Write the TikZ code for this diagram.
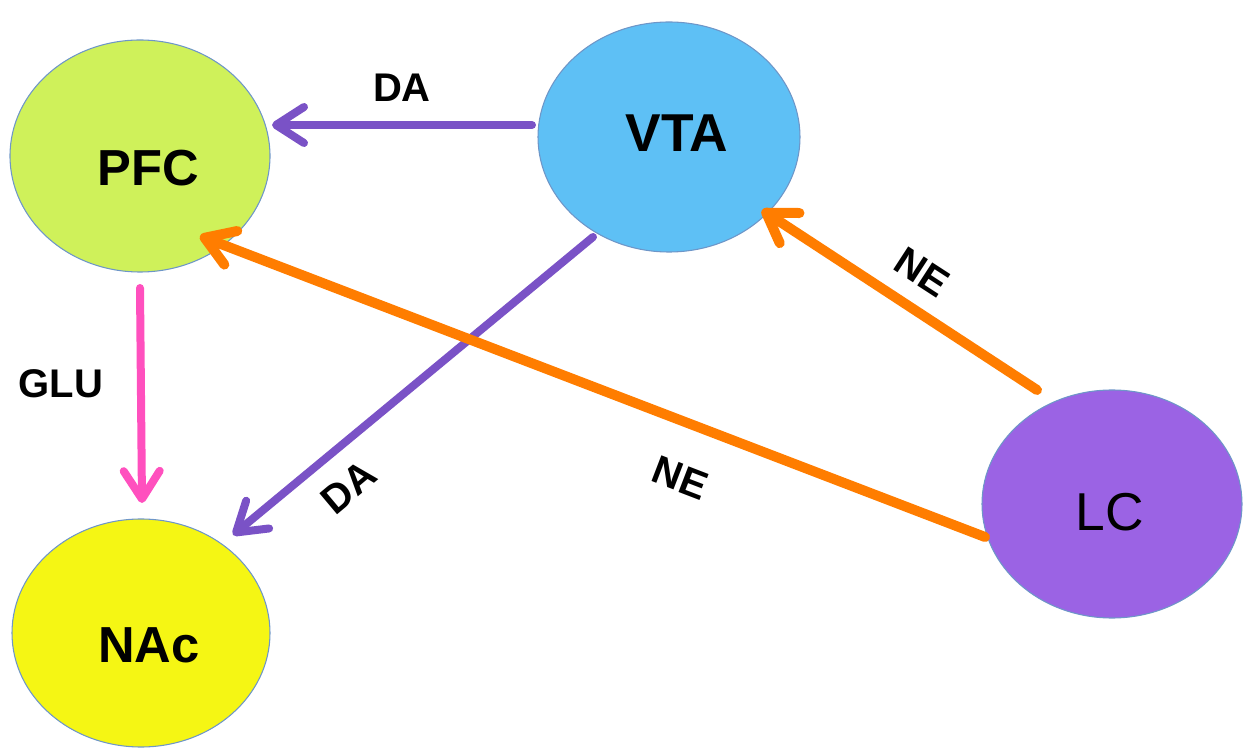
\documentclass[tikz,border=0pt]{standalone}
\usepackage{fontspec}
\setmainfont{Liberation Sans}
\usetikzlibrary{shapes.geometric,arrows.meta}
\definecolor{pfcgreen}{RGB}{207,241,90}
\definecolor{vtablue}{RGB}{94,192,245}
\definecolor{nacyellow}{RGB}{245,246,20}
\definecolor{lcpurple}{RGB}{155,99,228}
\definecolor{rimblue}{RGB}{110,150,200}
\definecolor{arrpurple}{RGB}{122,82,198}
\definecolor{arrorange}{RGB}{255,125,0}
\definecolor{arrpink}{RGB}{255,80,190}
\tikzset{
  region/.style={ellipse, draw=rimblue, line width=0.8pt, inner sep=0pt},
  bigtxt/.style={inner sep=0pt, font=\bfseries\fontsize{38}{40}\selectfont},
  edgetxt/.style={inner sep=0pt, font=\bfseries\fontsize{30}{32}\selectfont},
  conn/.style={line cap=round, -{Straight Barb[length=21pt, width=27pt, line width=0pt 1, line cap=round, line join=round]}},
  da/.style={conn, draw=arrpurple, line width=6pt},
  ne/.style={conn, draw=arrorange, line width=7.5pt},
  glu/.style={conn, draw=arrpink, line width=6pt}
}
\begin{document}
\begin{tikzpicture}[x=0.75pt, y=-0.75pt]
\useasboundingbox (0,0) rectangle (1243,748);
% regions
\node[region, fill=pfcgreen, minimum width=195pt, minimum height=174pt] (pfc) at (140,156) {};
\node[region, fill=vtablue, minimum width=196.5pt, minimum height=172.5pt] (vta) at (669,137) {};
\node[region, fill=nacyellow, minimum width=193.5pt, minimum height=171pt] (nac) at (141,633) {};
\node[region, fill=lcpurple, minimum width=195pt, minimum height=171pt] (lc) at (1112,504) {};
% region texts
\node[bigtxt] (pfct) at (148,168) {PFC};
\node[bigtxt, font=\bfseries\fontsize{40}{42}\selectfont] (vtat) at (677,133) {VTA};
\node[bigtxt] (nact) at (149,645) {NAc};
\node[inner sep=0pt, font=\fontsize{40}{42}\selectfont] (lct) at (1110,512) {LC};
% connectors
\draw[da] ([shift={(-137,-12)}]vta.center) -- ([shift={(132,-31)}]pfc.center);
\draw[da] ([shift={(-76,100)}]vta.center) -- ([shift={(92,-98)}]nac.center);
\draw[ne] ([shift={(-127,33)}]lc.center) -- ([shift={(60,80)}]pfc.center);
\draw[ne] ([shift={(-75,-114)}]lc.center) -- ([shift={(93,73)}]vta.center);
\draw[glu] ([shift={(0,132)}]pfc.center) -- ([shift={(1,-130)}]nac.center);
% connector labels
\node[edgetxt] (da1) at (402,88) {DA};
\node[edgetxt, rotate=40] (da2) at (349,487) {DA};
\node[edgetxt, rotate=-33] (ne1) at (922,272) {NE};
\node[edgetxt, rotate=-21] (ne2) at (680,478) {NE};
\node[edgetxt] (glut) at (61,384) {GLU};
\end{tikzpicture}
\end{document}
